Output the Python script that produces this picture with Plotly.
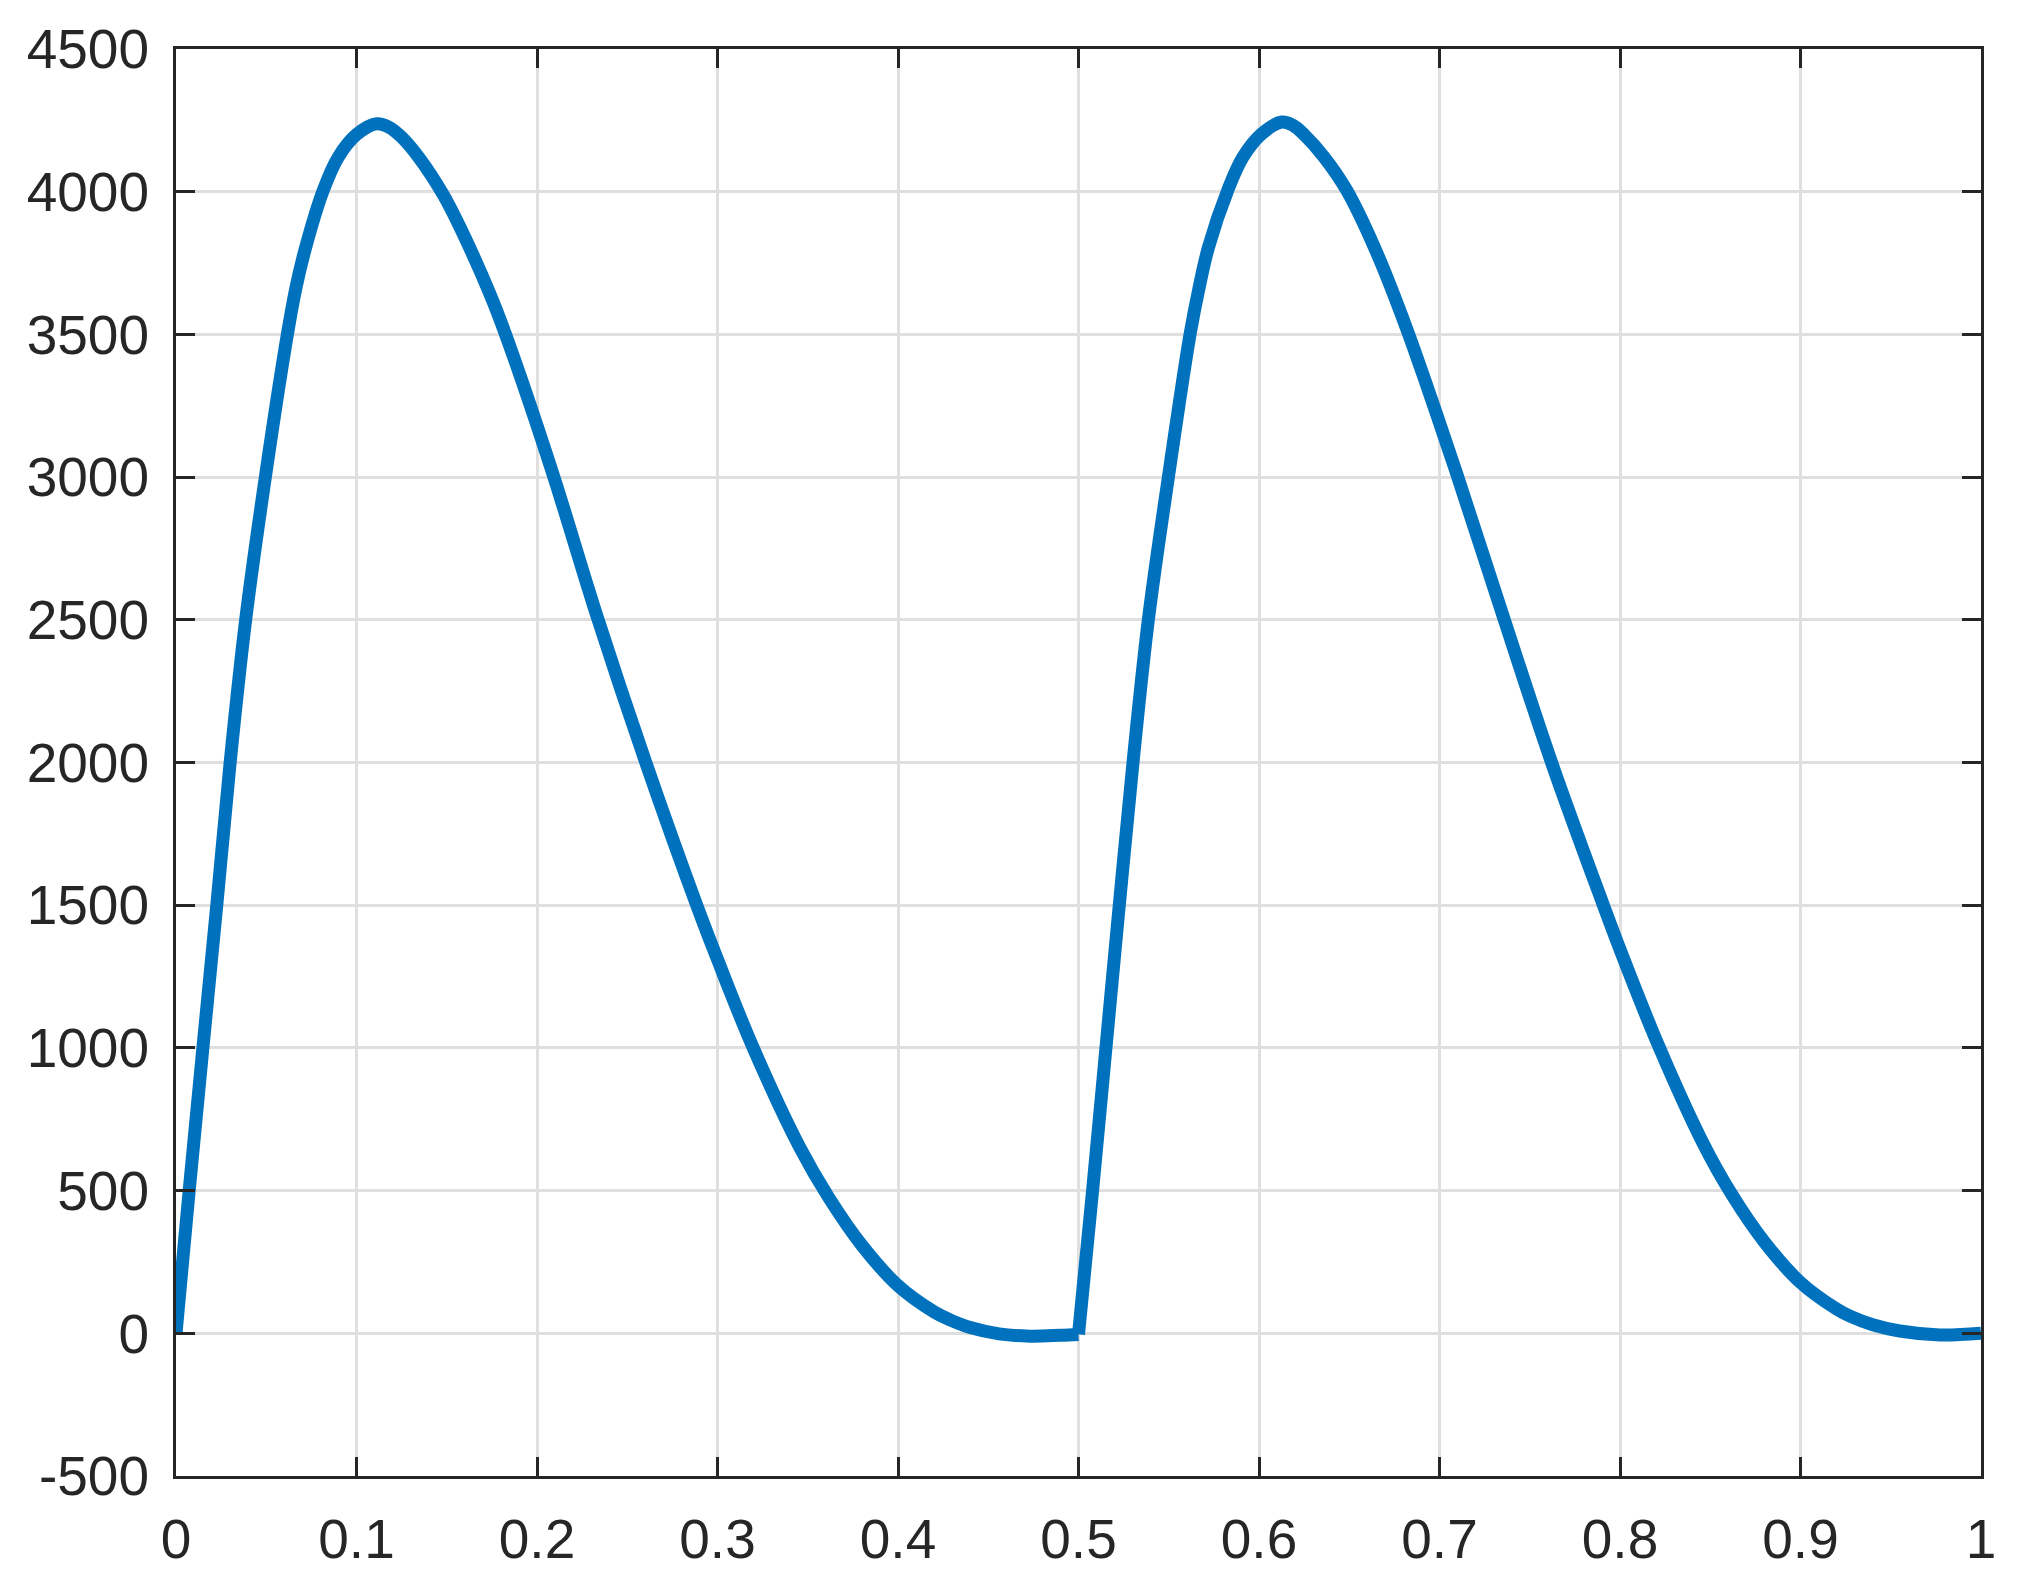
"""Two-cycle waveform, redrawn with plotly (MATLAB-style axes box)."""
import plotly.graph_objects as go

# values, one list pair per cycle
t_cycle1 = [0.0, 0.0073, 0.0149, 0.0226, 0.030, 0.0386, 0.0495, 0.0617, 0.0665,
            0.072, 0.0816, 0.090, 0.100, 0.1111, 0.118, 0.125, 0.135, 0.148,
            0.157, 0.174, 0.1823, 0.2081, 0.2331, 0.2600, 0.2885, 0.300,
            0.3198, 0.3457, 0.3614, 0.380, 0.400, 0.420, 0.4288, 0.440, 0.456,
            0.473, 0.490, 0.500]
y_cycle1 = [0, 500, 1000, 1500, 2000, 2500, 3000, 3500, 3665,
            3809, 4005, 4122, 4200, 4238, 4226, 4191, 4116, 3990,
            3880, 3641, 3505, 3025, 2515, 2005, 1500, 1310,
            1000, 650, 478, 308, 167, 75, 47, 20, -2,
            -10, -7, -4]

t_cycle2 = [0.500, 0.5078, 0.5152, 0.5226, 0.5302, 0.5387, 0.5498, 0.5618,
            0.5667, 0.572, 0.583, 0.591, 0.601, 0.6126, 0.619, 0.625, 0.636,
            0.6486, 0.6643, 0.6818, 0.7091, 0.7354, 0.7621, 0.7908, 0.800,
            0.8212, 0.8457, 0.8614, 0.880, 0.900, 0.920, 0.9274, 0.940, 0.955,
            0.9773, 1.0]
y_cycle2 = [-4, 500, 1000, 1500, 2000, 2500, 3000, 3500,
            3660, 3805, 4010, 4120, 4200, 4244, 4232, 4200, 4122,
            4005, 3800, 3520, 3020, 2510, 2000, 1500, 1345,
            1010, 670, 492, 320, 178, 85, 60, 30, 8,
            -6, 0]

x_ticks = [0, 0.1, 0.2, 0.3, 0.4, 0.5, 0.6, 0.7, 0.8, 0.9, 1]
x_ticktext = ["0", "0.1", "0.2", "0.3", "0.4", "0.5", "0.6", "0.7", "0.8", "0.9", "1"]
y_ticks = [-500, 0, 500, 1000, 1500, 2000, 2500, 3000, 3500, 4000, 4500]
y_ticktext = ["-500", "0", "500", "1000", "1500", "2000", "2500", "3000", "3500", "4000", "4500"]

LINE_BLUE = "#0072BD"
INK = "#262626"
GRID = "#dfdfdf"

fig = go.Figure()
for t, y in [(t_cycle1, y_cycle1), (t_cycle2, y_cycle2)]:
    fig.add_trace(go.Scatter(
        x=t, y=y, mode="lines",
        line=dict(color=LINE_BLUE, width=13, shape="spline", smoothing=1.0),
        showlegend=False, hoverinfo="x+y",
    ))

axis_common = dict(
    showline=True, linecolor=INK, linewidth=3, mirror="ticks",
    ticks="inside", ticklen=19, tickwidth=3, tickcolor=INK,
    showgrid=True, gridcolor=GRID, gridwidth=3, zeroline=False,
    automargin=False,
    tickfont=dict(family="Liberation Sans, Arial, sans-serif", size=55, color=INK),
)

fig.update_xaxes(range=[0, 1], tickvals=x_ticks, ticktext=x_ticktext,
                 ticklabelstandoff=13, **axis_common)
fig.update_yaxes(range=[-500, 4500], tickvals=y_ticks, ticktext=y_ticktext,
                 ticklabelstandoff=13, **axis_common)

# page body keeps an 8px margin, so the figure is 16px smaller than the window
fig.update_layout(
    width=2001, height=1572,
    margin=dict(l=168, r=28, t=41, b=104),
    paper_bgcolor="white", plot_bgcolor="white",
)

fig.write_html("out.html")
